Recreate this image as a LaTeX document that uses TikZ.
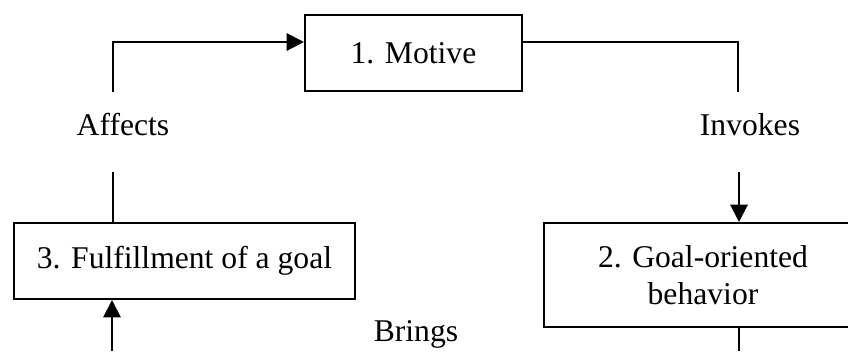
\documentclass[tikz,border=0pt]{standalone}
\usepackage{fontspec}
\setmainfont{Liberation Serif}
\usetikzlibrary{arrows.meta}
\usetikzlibrary{calc}

\begin{document}
\begin{tikzpicture}[x=0.3mm, y=-0.3mm, line width=0.6mm,
  stage/.style={draw, inner sep=0pt, align=center, font=\fontsize{27}{31.5}\selectfont},
  lbl/.style={inner sep=0pt, font=\fontsize{27}{31.5}\selectfont},
  >={Triangle[length=5.2mm,width=5.2mm]}]

\useasboundingbox (0,0) rectangle (848,351);

\node[stage, minimum width=65.1mm, minimum height=22.8mm] (motive) at (413.5,53) {1. Motive};
\node[stage, minimum width=102.3mm, minimum height=22.8mm] (fulfil) at (184.5,261) {3. Fulfillment of a goal};
\node[stage, minimum width=95.4mm, minimum height=31.2mm] (behav) at (703,275) {2. Goal-oriented\\behavior};

\node[lbl] (affects) at (123,125) {Affects};
\node[lbl] (invokes) at (750,125) {Invokes};
\node[lbl] (brings) at (416,334) {Brings};

\coordinate (a0) at (113,42);
\coordinate (a1) at (113,92);
\coordinate (a2) at (113,172);
\coordinate (i0) at (738,42);
\coordinate (i1) at (738,92);
\coordinate (i2) at (739,172);
\coordinate (b0) at (112,351);
\coordinate (b1) at (739,351);

\draw[->] (a1) -- (a0) -- (a0 -| motive.west);
\draw (a2) -- (a2 |- fulfil.north);
\draw (i0 -| motive.east) -- (i0) -- (i1);
\draw[->] (i2) -- (i2 |- behav.north);
\draw[->] (b0) -- (b0 |- fulfil.south);
\draw (b1 |- behav.south) -- (b1);
\end{tikzpicture}
\end{document}
